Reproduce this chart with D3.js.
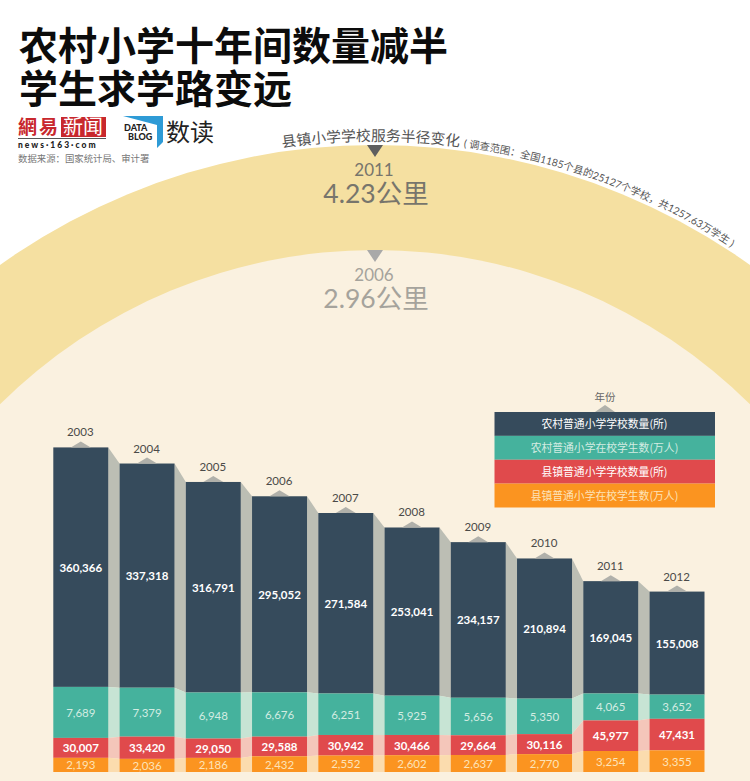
<!DOCTYPE html>
<html>
<head>
<meta charset="utf-8">
<script src="https://cdn.jsdelivr.net/npm/d3@7"></script>
<style>
    html, body { margin: 0; padding: 0; background: #fff; }
    svg { display: block; }
    text { font-family: Lato, "Noto Sans CJK SC", sans-serif; }
    .cjk { font-family: "Noto Sans CJK SC", sans-serif; }
    .mix { font-family: Lato, "Noto Sans CJK SC", sans-serif; }
</style>
</head>
<body>
<div id="chart"></div>
<script>

const years = ["2003", "2004", "2005", "2006", "2007", "2008", "2009", "2010", "2011", "2012"];

const ruralSchools = [360366, 337318, 316791, 295052, 271584, 253041, 234157, 210894, 169045, 155008];
const ruralStudents = [7689, 7379, 6948, 6676, 6251, 5925, 5656, 5350, 4065, 3652];
const townSchools = [30007, 33420, 29050, 29588, 30942, 30466, 29664, 30116, 45977, 47431];
const townStudents = [2193, 2036, 2186, 2432, 2552, 2602, 2637, 2770, 3254, 3355];

const legendLabels = ["农村普通小学学校数量(所)", "农村普通小学在校学生数(万人)", "县镇普通小学学校数量(所)", "县镇普通小学在校学生数(万人)"];
const bandColors = ["#364b5c", "#45b29d", "#e04a4c", "#fb9420"];
const linkColors = ["#bcbeb4", "#c7e4d4", "#f4c6ba", "#fbdcae"];
const labelColors = ["#ffffff", "#d3ece2", "#ffffff", "#fde3b8"];
const labelWeights = [700, 400, 700, 400];

const radiusYears = ["2011", "2006"];
const radiusLabels = ["4.23公里", "2.96公里"];

const width = 750;
const height = 781;

const svg = d3.select("#chart")
    .append("svg")
    .attr("width", width)
    .attr("height", height);

// the two big arcs
const cx = 375;
const outerR = 646;
const innerR = 533;
const outerTop = 145;
const innerTop = 250;

svg.append("circle")
    .attr("cx", cx).attr("cy", outerTop + outerR).attr("r", outerR)
    .attr("fill", "#f5e0a1");

svg.append("circle")
    .attr("cx", cx).attr("cy", innerTop + innerR).attr("r", innerR)
    .attr("fill", "#faf1e0");

// below the inner arc everything is cream
svg.append("rect")
    .attr("x", 0).attr("y", innerTop + innerR - 20).attr("width", width).attr("height", 20)
    .attr("fill", "#faf1e0");

// title
svg.selectAll("text.title")
    .data(["农村小学十年间数量减半", "学生求学路变远"])
    .enter().append("text")
    .attr("class", "title cjk")
    .attr("x", 19)
    .attr("y", (d, i) => 60 + i * 43)
    .attr("font-size", 39)
    .attr("font-weight", 700)
    .attr("fill", "#0c0c0c")
    .text(d => d);

// logos
const logo = svg.append("g");
logo.append("text").attr("class", "cjk").attr("x", 18).attr("y", 134)
    .attr("font-size", 19).attr("font-weight", 700).attr("letter-spacing", 2).attr("fill", "#c8282d").text("網易");
logo.append("rect").attr("x", 61).attr("y", 117).attr("width", 45).attr("height", 20).attr("fill", "#c8282d");
logo.append("text").attr("class", "cjk").attr("x", 63).attr("y", 134)
    .attr("font-size", 20).attr("fill", "#fff").text("新闻");
logo.append("rect").attr("x", 18).attr("y", 138).attr("width", 88).attr("height", 1).attr("fill", "#555");
logo.append("text").attr("x", 18).attr("y", 148)
    .attr("font-size", 8.5).attr("font-weight", 900).attr("letter-spacing", 2).attr("fill", "#222").text("news·163·com");
logo.append("text").attr("class", "cjk").attr("x", 18).attr("y", 162)
    .attr("font-size", 9.4).attr("fill", "#777").text("数据来源：国家统计局、审计署");

logo.append("path").attr("d", "M123,116 H163 V142 L157,148 V125 Z").attr("fill", "#2e9bd6");
logo.append("text").attr("x", 124).attr("y", 131).attr("font-size", 9).attr("font-weight", 900).attr("fill", "#222").text("DATA");
logo.append("text").attr("x", 128).attr("y", 140).attr("font-size", 9).attr("font-weight", 900).attr("fill", "#222").text("BLOG");
logo.append("text").attr("class", "cjk").attr("x", 166).attr("y", 141)
    .attr("font-size", 24).attr("fill", "#222").text("数读");

// caption running along the outer arc
const capR = outerR + 4;
const capPath = d3.path();
capPath.arc(cx, outerTop + outerR, capR, -Math.PI * 0.65, -Math.PI * 0.1);
svg.append("defs").append("path").attr("id", "capArc").attr("d", capPath.toString());

const cap = svg.append("text").attr("class", "mix").attr("fill", "#555");
const capText = cap.append("textPath")
    .attr("href", "#capArc")
    .attr("startOffset", capR * (Math.PI * 0.15 - 93 / capR));
capText.append("tspan").attr("font-size", 14.8).text("县镇小学学校服务半径变化");
capText.append("tspan").attr("font-size", 10.3).attr("dx", 4).text("( 调查范围：全国1185个县的25127个学校，共1257.63万学生 )");

// radius markers
const markerY = [145, 250];
const markerColors = ["#5f5f5f", "#a9a9a9"];
const markerText = ["#77756c", "#a5a39c"];

radiusYears.forEach(function (y, i) {
    svg.append("path")
        .attr("d", d3.line()([[367, markerY[i]], [383, markerY[i]], [375, markerY[i] + 12]]))
        .attr("fill", markerColors[i]);
    svg.append("text").attr("x", cx - 1).attr("y", markerY[i] + 31)
        .attr("text-anchor", "middle").attr("font-size", 17).attr("fill", markerText[i]).text(y);
    svg.append("text").attr("x", cx + 1).attr("y", markerY[i] + 58)
        .attr("text-anchor", "middle").attr("font-size", 26.5).attr("fill", markerText[i]).text(radiusLabels[i]);
});

// bars
const series = [ruralSchools, ruralStudents, townSchools, townStudents];

const x = d3.scaleBand()
    .domain(years)
    .range([53.3, 704.5])
    .paddingInner(0.17)
    .paddingOuter(0);

const baseline = 772;

// schools use 1500 a pixel, students 150 a pixel
const schoolScale = d3.scaleLinear().domain([0, 360366]).range([0, 239.5]);
const studentScale = d3.scaleLinear().domain([0, 7689]).range([0, 51]);
const orangeScale = d3.scaleLinear().domain([0, 3254]).range([0, 21]);
const heightScales = [schoolScale, studentScale, schoolScale, orangeScale];

// work out the band tops from the bottom up
const bands = years.map(function (year, i) {
    let y = baseline;
    const out = [];
    for (let s = series.length - 1; s >= 0; s--) {
        const h = heightScales[s](series[s][i]);
        out[s] = { series: s, year: year, value: series[s][i], y0: y - h, y1: y };
        y -= h;
    }
    return out;
});

// connectors
const linkGroup = svg.append("g");
for (let i = 0; i < years.length - 1; i++) {
    const xa = x(years[i]) + x.bandwidth();
    const xb = x(years[i + 1]);
    series.forEach(function (values, s) {
        const a = bands[i][s];
        const b = bands[i + 1][s];
        linkGroup.append("path")
            .attr("d", d3.line()([[xa, a.y0], [xb, b.y0], [xb, b.y1], [xa, a.y1]]))
            .attr("fill", linkColors[s]);
    });
}

const barGroups = svg.selectAll("g.bar")
    .data(bands)
    .enter().append("g")
    .attr("class", "bar");

barGroups.selectAll("rect")
    .data(d => d)
    .enter().append("rect")
    .attr("x", d => x(d.year))
    .attr("y", d => d.y0)
    .attr("width", x.bandwidth())
    .attr("height", d => d.y1 - d.y0)
    .attr("fill", d => bandColors[d.series]);

barGroups.selectAll("text.value")
    .data(d => d)
    .enter().append("text")
    .attr("class", "value")
    .attr("x", d => x(d.year) + x.bandwidth() / 2)
    .attr("y", d => (d.y0 + d.y1) / 2 + 4.5)
    .attr("text-anchor", "middle")
    .attr("font-size", 11.5)
    .attr("font-weight", d => labelWeights[d.series])
    .attr("fill", d => labelColors[d.series])
    .text(d => d3.format(",")(d.value));

// year label + small caret on top of every bar
barGroups.append("path")
    .attr("d", function (d) {
        const mid = x(d[0].year) + x.bandwidth() / 2;
        const top = d[0].y0;
        return d3.line()([[mid - 10, top], [mid, top - 6], [mid + 10, top]]);
    })
    .attr("fill", "#b0b0aa");

barGroups.append("text")
    .attr("x", d => x(d[0].year) + x.bandwidth() / 2 - 0.5)
    .attr("y", d => d[0].y0 - 11)
    .attr("text-anchor", "middle")
    .attr("font-size", 11.5)
    .attr("fill", "#4a4a48")
    .text(d => d[0].year);

// legend
const legendY = d3.scaleBand()
    .domain(legendLabels)
    .range([412, 507.5]);

svg.append("text").attr("class", "cjk")
    .attr("x", 605).attr("y", 401).attr("text-anchor", "middle")
    .attr("font-size", 10.5).attr("fill", "#666").text("年份");

svg.append("path")
    .attr("d", d3.line()([[595, 412], [605, 405], [615, 412]]))
    .attr("fill", "#b0b0aa");

svg.selectAll("rect.legend")
    .data(legendLabels)
    .enter().append("rect")
    .attr("class", "legend")
    .attr("x", 494.5)
    .attr("y", d => legendY(d))
    .attr("width", 220.5)
    .attr("height", legendY.bandwidth())
    .attr("fill", (d, i) => bandColors[i]);

svg.selectAll("text.legend")
    .data(legendLabels)
    .enter().append("text")
    .attr("class", "legend cjk")
    .attr("x", 604.5)
    .attr("y", d => legendY(d) + legendY.bandwidth() / 2 + 4)
    .attr("text-anchor", "middle")
    .attr("font-size", 10.8)
    .attr("fill", (d, i) => labelColors[i])
    .text(d => d);

</script>
</body>
</html>
